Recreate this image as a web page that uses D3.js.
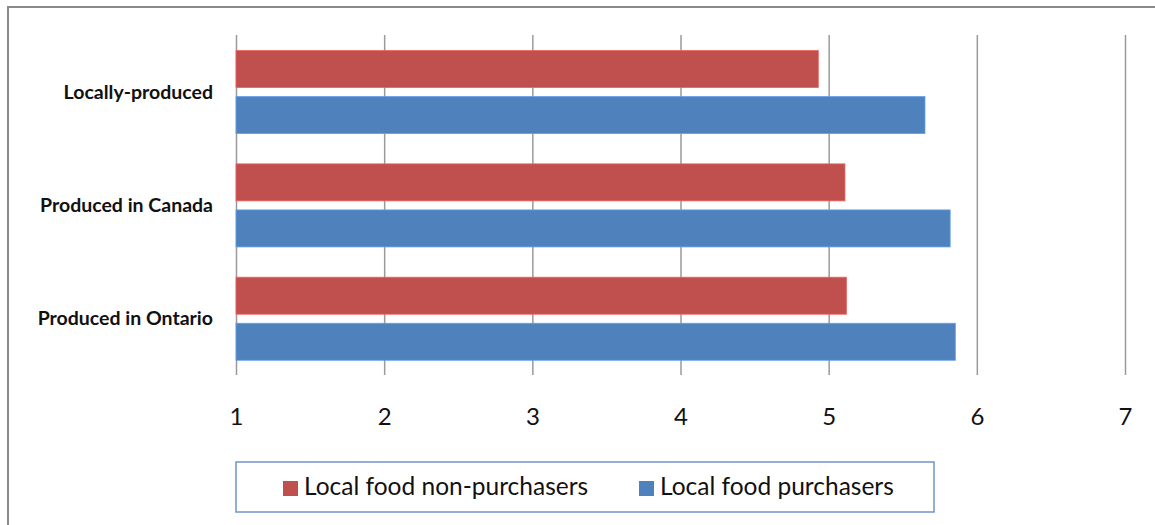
<!DOCTYPE html>
<html>
<head>
<meta charset="utf-8">
<script src="https://cdn.jsdelivr.net/npm/d3@7"></script>
<style>
  html, body { margin: 0; padding: 0; background: #ffffff; }
  svg { display: block; }
</style>
</head>
<body>
<svg id="chart" width="1155" height="525"></svg>
<script>
// Rating categories, top to bottom
const categories = ["Locally-produced", "Produced in Canada", "Produced in Ontario"];
// Series names (drawn in this order within each category)
const seriesNames = ["Local food non-purchasers", "Local food purchasers"];
// Mean ratings per category
const nonPurchasers = [4.93, 5.11, 5.12];
const purchasers = [5.65, 5.82, 5.855];
// Axis ticks
const tickValues = [1, 2, 3, 4, 5, 6, 7];
const seriesColors = ["#C0504D", "#4F81BD"];

const svg = d3.select("#chart");
const W = 1155, H = 525;

const plot = { left: 236, right: 1125, top: 35, bottom: 375 };

// Outer frame (runs off the right and bottom edges)
svg.append("rect")
  .attr("x", 8).attr("y", 7)
  .attr("width", W + 20).attr("height", H + 20)
  .attr("fill", "#ffffff")
  .attr("stroke", "#8a8a8a").attr("stroke-width", 2);

const x = d3.scaleLinear().domain([1, 7]).range([plot.left, plot.right]);
const y = d3.scaleBand().domain(categories).range([plot.top, plot.bottom]).padding(0);
const bw = y.bandwidth();
const inner = d3.scaleBand().domain(seriesNames)
  .range([bw * 0.137, bw * 0.87]).paddingInner(0.196).paddingOuter(0);

// Vertical gridlines with tick labels
const axis = d3.axisBottom(x)
  .tickValues(tickValues)
  .tickFormat(d3.format("d"))
  .tickSizeInner(-(plot.bottom - plot.top))
  .tickSizeOuter(0)
  .tickPadding(33);

const gx = svg.append("g")
  .attr("transform", `translate(0,${plot.bottom})`)
  .call(axis);
gx.select(".domain").remove();
gx.selectAll(".tick line").attr("stroke", "#9a9a9a").attr("stroke-width", 1.5);
gx.selectAll(".tick text")
  .attr("fill", "#111")
  .style("font-family", "Lato, 'Open Sans', sans-serif")
  .style("font-size", "24px");

// Bars
const rows = categories.map((c, i) => ({ cat: c, values: [nonPurchasers[i], purchasers[i]] }));
const groups = svg.append("g").selectAll("g")
  .data(rows).join("g")
  .attr("transform", d => `translate(0,${y(d.cat)})`);

groups.selectAll("rect")
  .data(d => d.values.map((v, j) => ({ series: seriesNames[j], value: v, color: seriesColors[j] })))
  .join("rect")
  .attr("x", x(1))
  .attr("y", d => inner(d.series))
  .attr("width", d => x(d.value) - x(1))
  .attr("height", inner.bandwidth())
  .attr("fill", d => d.color)
  .attr("stroke", d => d3.color(d.color).brighter(0.6))
  .attr("stroke-width", 0.8);

// Category labels
svg.append("g").selectAll("text")
  .data(categories).join("text")
  .attr("x", 213)
  .attr("y", d => y(d) + bw / 2 + 2)
  .attr("text-anchor", "end")
  .attr("dominant-baseline", "middle")
  .attr("fill", "#111")
  .style("font-family", "Lato, 'Open Sans', sans-serif")
  .style("font-weight", "bold")
  .style("font-size", "19.5px")
  .text(d => d);

// Legend
const legend = svg.append("g");
legend.append("rect")
  .attr("x", 236).attr("y", 462)
  .attr("width", 698).attr("height", 50)
  .attr("fill", "#ffffff")
  .attr("stroke", "#7095c8").attr("stroke-width", 1.5);

const legendX = [283, 639];
const items = legend.selectAll("g.item")
  .data(seriesNames).join("g")
  .attr("class", "item")
  .attr("transform", (d, i) => `translate(${legendX[i]},0)`);
items.append("rect")
  .attr("x", 0).attr("y", 481)
  .attr("width", 15).attr("height", 15)
  .attr("fill", (d, i) => seriesColors[i]);
items.append("text")
  .attr("x", 21).attr("y", 495)
  .attr("fill", "#111")
  .style("font-family", "Lato, 'Open Sans', sans-serif")
  .style("font-size", "24.5px")
  .text(d => d);
</script>
</body>
</html>
